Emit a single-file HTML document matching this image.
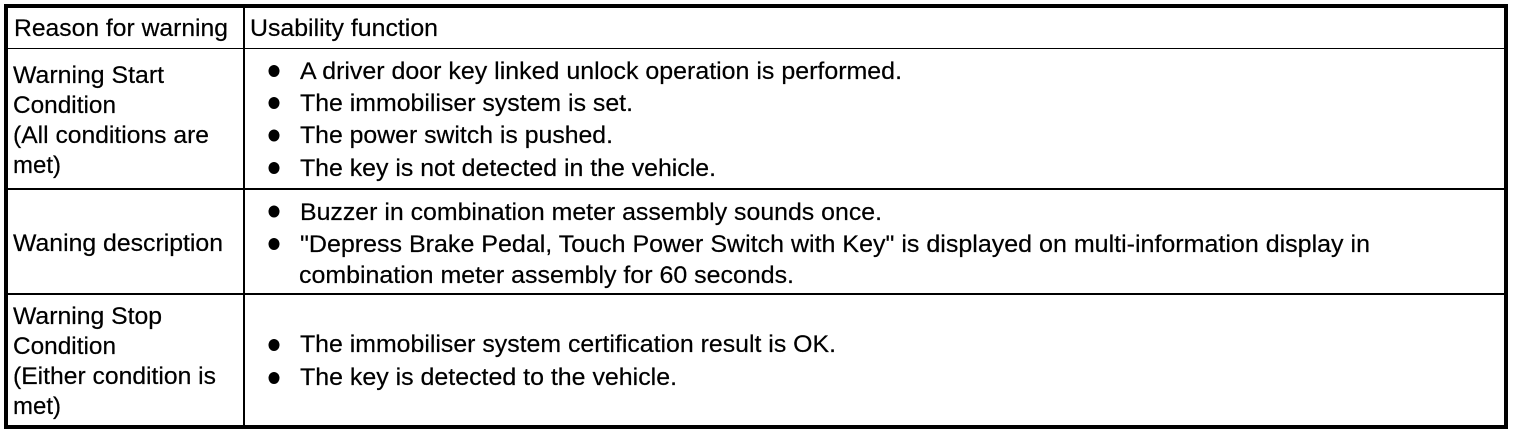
<!DOCTYPE html>
<html><head><meta charset="utf-8"><style>
html,body{margin:0;padding:0;background:#fff;width:1520px;height:434px;overflow:hidden}
svg{display:block}
text{font-family:"Liberation Sans",Arial,sans-serif;font-size:24px;fill:#000;stroke:#000;stroke-width:.2}
</style></head><body>
<svg width="1520" height="434" viewBox="0 0 1520 434" xmlns="http://www.w3.org/2000/svg">
<rect width="1520" height="434" fill="#fff"/>
<rect x="6" y="6" width="1500" height="421" fill="none" stroke="#000" stroke-width="4"/>
<rect x="243" y="6" width="2" height="421"/>
<rect x="6" y="48" width="1500" height="1"/>
<rect x="6" y="188" width="1500" height="2"/>
<rect x="6" y="293" width="1500" height="2"/>
<text lengthAdjust="spacingAndGlyphs" x="14" y="36" textLength="214">Reason for warning</text>
<text lengthAdjust="spacingAndGlyphs" x="250" y="36" textLength="188">Usability function</text>
<text lengthAdjust="spacingAndGlyphs" x="13" y="83" textLength="151">Warning Start</text>
<text lengthAdjust="spacingAndGlyphs" x="13" y="113" textLength="103">Condition</text>
<text lengthAdjust="spacingAndGlyphs" x="13" y="143" textLength="196">(All conditions are</text>
<text lengthAdjust="spacingAndGlyphs" x="13" y="173" textLength="48">met)</text>
<text lengthAdjust="spacingAndGlyphs" x="13" y="251" textLength="210">Waning description</text>
<text lengthAdjust="spacingAndGlyphs" x="13" y="324" textLength="149">Warning Stop</text>
<text lengthAdjust="spacingAndGlyphs" x="13" y="354" textLength="103">Condition</text>
<text lengthAdjust="spacingAndGlyphs" x="13" y="384" textLength="203">(Either condition is</text>
<text lengthAdjust="spacingAndGlyphs" x="13" y="414" textLength="48">met)</text>
<ellipse cx="274" cy="71" rx="5.5" ry="6"/><ellipse cx="274" cy="103" rx="5.5" ry="6"/><ellipse cx="274" cy="135.500" rx="5.5" ry="6"/><ellipse cx="274" cy="168" rx="5.5" ry="6"/>
<ellipse cx="274" cy="211.500" rx="5.5" ry="6"/><ellipse cx="274" cy="244" rx="5.5" ry="6"/>
<ellipse cx="274" cy="345" rx="5.5" ry="6"/><ellipse cx="274" cy="378" rx="5.5" ry="6"/>
<text lengthAdjust="spacingAndGlyphs" x="300" y="79" textLength="602">A driver door key linked unlock operation is performed.</text>
<text lengthAdjust="spacingAndGlyphs" x="300" y="111" textLength="333">The immobiliser system is set.</text>
<text lengthAdjust="spacingAndGlyphs" x="300" y="143" textLength="313">The power switch is pushed.</text>
<text lengthAdjust="spacingAndGlyphs" x="300" y="176" textLength="416">The key is not detected in the vehicle.</text>
<text lengthAdjust="spacingAndGlyphs" x="300" y="220" textLength="582">Buzzer in combination meter assembly sounds once.</text>
<text lengthAdjust="spacingAndGlyphs" x="300" y="252" textLength="1070">"Depress Brake Pedal, Touch Power Switch with Key" is displayed on multi-information display in</text>
<text lengthAdjust="spacingAndGlyphs" x="299" y="283" textLength="495">combination meter assembly for 60 seconds.</text>
<text lengthAdjust="spacingAndGlyphs" x="300" y="352" textLength="536">The immobiliser system certification result is OK.</text>
<text lengthAdjust="spacingAndGlyphs" x="300" y="385" textLength="377">The key is detected to the vehicle.</text>
</svg>
</body></html>
